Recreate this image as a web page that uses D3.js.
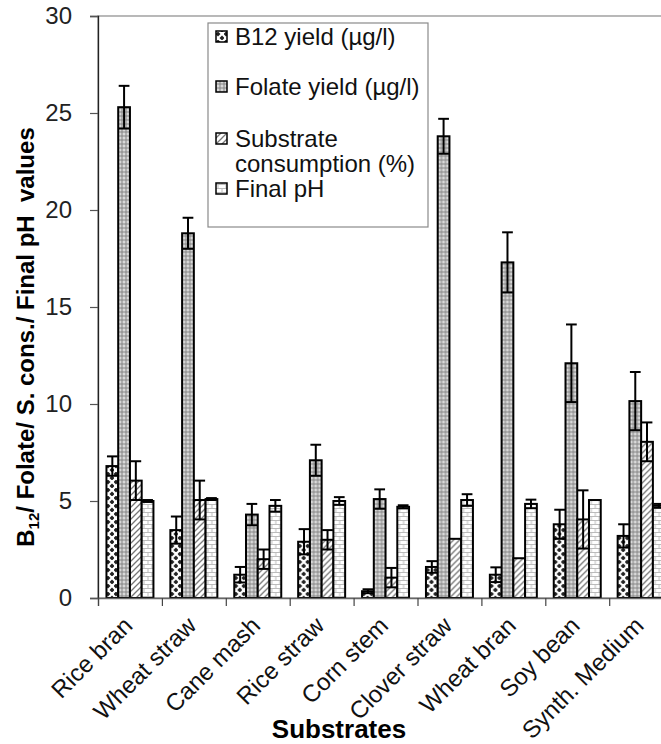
<!DOCTYPE html>
<html>
<head>
<meta charset="utf-8">
<script src="https://cdnjs.cloudflare.com/ajax/libs/d3/7.8.5/d3.min.js"></script>
<style>
  body { margin: 0; background: #fff; }
  svg { display: block; font-family: "Liberation Sans", Arial, sans-serif; }
</style>
</head>
<body>
<div id="chart"></div>
<script>
// Substrates on the x axis
const categories = ['Rice bran', 'Wheat straw', 'Cane mash', 'Rice straw', 'Corn stem',
  'Clover straw', 'Wheat bran', 'Soy bean', 'Synth. Medium'];

// values
const b12 = [6.8, 3.5, 1.2, 2.9, 0.35, 1.6, 1.2, 3.8, 3.2];
const b12Err = [0.5, 0.7, 0.4, 0.65, 0.1, 0.3, 0.38, 0.75, 0.6];
const folate = [25.3, 18.8, 4.3, 7.1, 5.1, 23.8, 17.3, 12.1, 10.15];
const folateErr = [1.1, 0.8, 0.55, 0.8, 0.5, 0.9, 1.55, 2.0, 1.5];
const substrate = [6.05, 5.05, 2.0, 3.0, 1.05, 3.05, 2.05, 4.05, 8.05];
const substrateErr = [1.0, 1.0, 0.5, 0.5, 0.5, 0, 0, 1.5, 1.0];
const finalPH = [5.0, 5.1, 4.75, 5.0, 4.7, 5.05, 4.85, 5.05, 4.75];
const finalPHErr = [0.05, 0.05, 0.3, 0.2, 0.08, 0.3, 0.22, 0, 0.1];

const yTicks = [0, 5, 10, 15, 20, 25, 30];

const series = [
  { key: 'b12', label: ['B12 yield (µg/l)'], values: b12, errs: b12Err, fill: 'url(#pat-b12)' },
  { key: 'folate', label: ['Folate yield (µg/l)'], values: folate, errs: folateErr, fill: 'url(#pat-folate)' },
  { key: 'subs', label: ['Substrate', 'consumption (%)'], values: substrate, errs: substrateErr, fill: 'url(#pat-subs)' },
  { key: 'ph', label: ['Final pH'], values: finalPH, errs: finalPHErr, fill: 'url(#pat-ph)' }
];

const width = 661, height = 744;
const margin = { top: 16, left: 98, bottom: 598 };
const step = 63.9;

const svg = d3.select('#chart').append('svg')
  .attr('width', width)
  .attr('height', height);

// fill patterns
const defs = svg.append('defs');

const pB12 = defs.append('pattern').attr('id', 'pat-b12')
  .attr('patternUnits', 'userSpaceOnUse').attr('width', 8).attr('height', 8);
pB12.append('rect').attr('width', 8).attr('height', 8).attr('fill', '#fff');
pB12.append('path').attr('d', 'M2,-0.5L4.5,2L2,4.5L-0.5,2Z M6,3.5L8.5,6L6,8.5L3.5,6Z').attr('fill', '#222');

const pFol = defs.append('pattern').attr('id', 'pat-folate')
  .attr('patternUnits', 'userSpaceOnUse').attr('width', 4).attr('height', 4);
pFol.append('rect').attr('width', 4).attr('height', 4).attr('fill', '#999');
pFol.append('circle').attr('cx', 2).attr('cy', 2).attr('r', 1.2)
  .attr('fill', '#d2d2d2').attr('stroke', '#e6e6e6').attr('stroke-width', 0.5);

const pSub = defs.append('pattern').attr('id', 'pat-subs')
  .attr('patternUnits', 'userSpaceOnUse').attr('width', 6).attr('height', 6);
pSub.append('rect').attr('width', 6).attr('height', 6).attr('fill', '#fff');
pSub.append('path').attr('d', 'M0,6L6,0 M-1,1L1,-1 M5,7L7,5')
  .attr('stroke', '#777').attr('stroke-width', 1.3);

const pPh = defs.append('pattern').attr('id', 'pat-ph')
  .attr('patternUnits', 'userSpaceOnUse').attr('width', 8).attr('height', 8);
pPh.append('rect').attr('width', 8).attr('height', 8).attr('fill', '#fff');
pPh.append('path').attr('d', 'M0,0.5H8 M0,4.5H8 M2,0.5V4.5 M6,4.5V8.5')
  .attr('stroke', '#bbb').attr('stroke-width', 1);

// scales
const x = d3.scaleBand()
  .domain(categories)
  .range([margin.left, margin.left + step * categories.length])
  .padding(0);

const xInner = d3.scaleBand()
  .domain(series.map(s => s.key))
  .range([0, x.bandwidth()])
  .paddingInner(0)
  .paddingOuter(0.72);

const xBound = d3.scaleLinear()
  .domain([0, categories.length])
  .range(x.range());

const y = d3.scaleLinear()
  .domain([0, 30])
  .range([margin.bottom, margin.top]);

// plot area border
svg.append('rect')
  .attr('x', margin.left)
  .attr('y', margin.top)
  .attr('width', step * categories.length)
  .attr('height', margin.bottom - margin.top)
  .attr('fill', 'none')
  .attr('stroke', '#8a8a8a')
  .attr('stroke-width', 1.2);

// bars
const groups = svg.append('g').selectAll('g')
  .data(categories)
  .enter().append('g')
  .attr('transform', d => `translate(${x(d)},0)`);

series.forEach(s => {
  groups.append('rect')
    .attr('x', xInner(s.key))
    .attr('y', (d, i) => y(s.values[i]))
    .attr('width', xInner.bandwidth())
    .attr('height', (d, i) => y(0) - y(s.values[i]))
    .attr('fill', s.fill)
    .attr('stroke', '#000')
    .attr('stroke-width', 2);
});

// error bars
series.forEach(s => {
  const cx = xInner(s.key) + xInner.bandwidth() / 2;
  const cap = xInner.bandwidth() / 2 - 0.5;
  groups.each(function(d, i) {
    const e = s.errs[i];
    if (!e) return;
    const g = d3.select(this);
    const v = s.values[i];
    g.append('line')
      .attr('x1', cx).attr('x2', cx)
      .attr('y1', y(v - e)).attr('y2', y(v + e))
      .attr('stroke', '#000').attr('stroke-width', 2);
    [v - e, v + e].forEach(t => {
      g.append('line')
        .attr('x1', cx - cap).attr('x2', cx + cap)
        .attr('y1', y(t)).attr('y2', y(t))
        .attr('stroke', '#000').attr('stroke-width', 2);
    });
  });
});

// y axis
const yAxis = svg.append('g')
  .attr('transform', `translate(${margin.left},0)`)
  .call(d3.axisLeft(y).tickValues(yTicks).tickSize(8).tickPadding(18));
yAxis.select('.domain').attr('stroke', '#222').attr('stroke-width', 1.3);
yAxis.selectAll('.tick line').attr('stroke', '#555').attr('stroke-width', 1.2);
yAxis.selectAll('.tick text')
  .attr('font-size', 24)
  .attr('font-family', '"Liberation Sans", Arial, sans-serif')
  .attr('fill', '#222');

// x axis: ticks on category boundaries
const xAxis = svg.append('g')
  .attr('transform', `translate(0,${margin.bottom})`)
  .call(d3.axisBottom(xBound).ticks(categories.length).tickSize(8).tickFormat(''));
xAxis.select('.domain').attr('stroke', '#666').attr('stroke-width', 1.3);
xAxis.selectAll('.tick line').attr('stroke', '#444').attr('stroke-width', 1.2);

// category labels
svg.append('g').selectAll('text')
  .data(categories)
  .enter().append('text')
  .attr('transform', d => `translate(${x(d) + x.bandwidth() / 2 + 4},${627}) rotate(-45)`)
  .attr('text-anchor', 'end')
  .attr('font-size', 24)
  .attr('fill', '#111')
  .text(d => d);

// axis titles
svg.append('text')
  .attr('x', 339)
  .attr('y', 738)
  .attr('text-anchor', 'middle')
  .attr('font-size', 26)
  .attr('font-weight', 'bold')
  .text('Substrates');

const yTitle = svg.append('text')
  .attr('transform', 'translate(34,337) rotate(-90)')
  .attr('text-anchor', 'middle')
  .attr('font-size', 24)
  .attr('font-weight', 'bold');
yTitle.append('tspan').text('B');
yTitle.append('tspan').attr('font-size', 15).attr('dy', 5).text('12');
yTitle.append('tspan').attr('dy', -5).text('/ Folate/ S. cons./ Final pH\u00a0\u00a0values');

// legend
const legend = svg.append('g');
legend.append('rect')
  .attr('x', 208).attr('y', 23)
  .attr('width', 220).attr('height', 204)
  .attr('fill', '#fff')
  .attr('stroke', '#8a8a8a')
  .attr('stroke-width', 1.2);

const legendBase = [45, 95, 147, 197];
series.forEach((s, i) => {
  const base = legendBase[i];
  legend.append('rect')
    .attr('x', 216).attr('y', base - 14)
    .attr('width', 11).attr('height', 11)
    .attr('fill', s.fill)
    .attr('stroke', '#000')
    .attr('stroke-width', 1.5);
  s.label.forEach((t, j) => {
    legend.append('text')
      .attr('x', 235)
      .attr('y', base + j * 25)
      .attr('font-size', 24)
      .attr('fill', '#111')
      .text(t);
  });
});
</script>
</body>
</html>
